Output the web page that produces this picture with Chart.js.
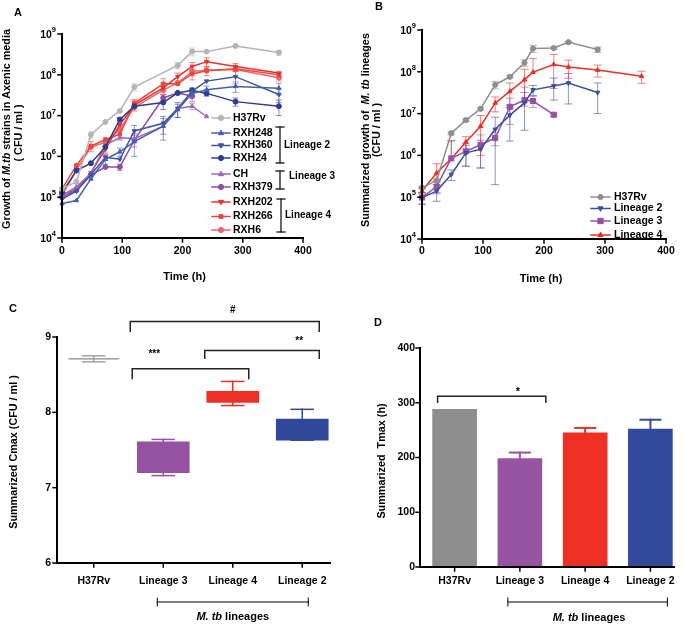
<!DOCTYPE html>
<html><head><meta charset="utf-8">
<script src="https://cdn.jsdelivr.net/npm/chart.js@4.4.1/dist/chart.umd.min.js"></script>
<style>
html,body{margin:0;padding:0;background:#fff;}
#wrap{position:relative;width:686px;height:627px;background:#fff;}
canvas{position:absolute;left:0;top:0;}
</style></head><body>
<div id="wrap">
<canvas id="cA" width="686" height="627"></canvas>
<canvas id="cB" width="686" height="627"></canvas>
<canvas id="cC" width="686" height="627"></canvas>
<canvas id="cD" width="686" height="627"></canvas>
</div>
<script>
// ================= DATA =================
// Panel A : individual strains (CFU/ml)
const timeA = [0,24,48,72,96,120,168,192,216,240,288,360];
const aH37Rv   = [1.6e5,2.4e5,3.4e6,7.0e6,1.3e7,5.0e7,null,1.7e8,3.7e8,3.7e8,5.1e8,3.5e8];
const aH37RvE  = [null,null,6e5,null,null,1e7,null,3e7,8e7,null,2e7,5e7];
const aRXH248  = [7.0e4,8.3e4,2.8e5,8.5e5,1.3e6,2.3e6,5.5e6,1.4e7,3.5e7,4.3e7,5.2e7,4.7e7];
const aRXH248E = [null,null,null,2e5,3e5,1.3e6,3e6,5e6,null,1e7,1.5e7,1.5e7];
const aRXH360  = [9.0e4,1.4e5,3.6e5,9.5e5,8.5e5,4.2e6,6.5e6,1.5e7,4.0e7,7.0e7,9.0e7,3.3e7];
const aRXH360E = [null,null,null,1.5e5,null,1.5e6,3e6,6e6,null,null,3e7,1.2e7];
const aRXH24   = [1.3e5,4.5e5,6.8e5,1.7e6,8.0e6,1.7e7,2.1e7,3.6e7,4.2e7,3.5e7,2.2e7,1.7e7];
const aRXH24E  = [null,null,null,null,1e6,null,7e6,null,5e6,5e6,5e6,7e6];
const aCH      = [1.1e5,1.8e5,3.8e5,1.9e6,2.9e6,2.7e6,5.5e6,1.5e7,1.7e7,9.5e6,null,null];
const aCHE     = [null,null,null,null,null,null,null,null,3e6,null,null,null];
const aRXH379  = [1.0e5,1.5e5,3.5e5,5.5e5,5.5e5,2.5e6,2.7e7,3.6e7,3.0e7,null,null,null];
const aRXH379E = [null,null,null,null,1e5,8e5,5e6,null,8e6,null,null,null];
const aRXH202  = [1.2e5,1.5e5,4.0e5,1.5e6,6.0e6,1.8e7,4.8e7,9.0e7,1.6e8,2.1e8,1.6e8,1.1e8];
const aRXH202E = [null,null,null,3e5,null,5e6,1.5e7,2e7,4e7,5e7,3e7,null];
const aRXH266  = [1.6e5,6.0e5,1.8e6,2.6e6,3.5e6,2.0e7,6.0e7,6.0e7,1.05e8,1.25e8,1.4e8,1.0e8];
const aRXH266E = [null,null,5e5,null,1e6,5e6,2e7,null,3e7,3e7,2e7,1.5e7];
const aRXH6    = [1.1e5,4.7e5,1.7e6,2.2e6,4.6e6,1.6e7,4.2e7,6.3e7,1.2e8,1.3e8,1.35e8,8.5e7];
const aRXH6E   = [null,null,null,null,null,null,null,null,null,null,null,1.5e7];
const xTicksA = [0,100,200,300,400];
const yTicksA = [1e4,1e5,1e6,1e7,1e8,1e9];

// Panel B : summarized lineages
const timeB = [0,24,48,72,96,120,144,168,182,216,240,288,360];
const bH37Rv  = [1.7e5,2.5e5,3.4e6,7.0e6,1.3e7,4.9e7,7.6e7,1.65e8,3.6e8,3.7e8,5.1e8,3.4e8,null];
const bH37RvE = [1e4,2e4,3e5,5e5,1e6,1e7,5e6,3e7,7e7,2e7,2e7,5e7,null];
const bLin2   = [9.8e4,1.4e5,3.5e5,1.15e6,1.4e6,4.2e6,9.2e6,1.8e7,3.7e7,4.6e7,5.4e7,3.2e7,null];
const bLin2E  = [3e4,6e4,1e5,6e5,9e5,4e6,7e6,1.4e7,1e7,2.5e7,3.7e7,2.2e7,null];
const bLin3   = [9.8e4,1.8e5,8.5e5,1.25e6,1.8e6,2.6e6,1.45e7,2.1e7,2.0e7,9.4e6,null,null,null];
const bLin3E  = [3e4,6e4,1.4e6,7e5,1.3e6,9e5,9e6,2.2e7,6e6,8e5,null,null,null];
const bLin4   = [1.4e5,3.8e5,8.3e5,2.1e6,5.0e6,1.8e7,3.4e7,6.5e7,9.8e7,1.5e8,1.3e8,1.1e8,7.8e7];
const bLin4E  = [2e4,2.5e5,1.4e6,7e5,4e6,7e6,2e7,5e7,1.1e8,1.1e8,6e7,3.5e7,2.5e7];
const xTicksB = [0,100,200,300,400];
const yTicksB = [1e4,1e5,1e6,1e7,1e8,1e9];

// Panel C : Cmax box plots (log10 CFU/ml)
const cLabels = ['H37Rv','Lineage 3','Lineage 4','Lineage 2'];
const cMin = [8.67,7.16,8.09,7.63];
const cQ1  = [8.71,7.20,8.13,7.63];
const cMed = [8.71,7.40,8.20,7.75];
const cQ3  = [8.71,7.61,8.28,7.91];
const cMax = [8.75,7.64,8.41,8.04];
const yTicksC = [6,7,8,9];

// Panel D : Tmax bars (h)
const dLabels = ['H37Rv','Lineage 3','Lineage 4','Lineage 2'];
const dMean = [288,198,245,252];
const dErr  = [0,11,9,17];
const yTicksD = [0,100,200,300,400];

// ================= HELPERS =================
const FONT = 'Arial, "Liberation Sans", Helvetica, sans-serif';
function font(size,bold=true,italic=false){return (italic?'italic ':'')+(bold?'bold ':'')+size+'px '+FONT;}
function text(ctx,s,x,y,o={}){
  ctx.save();ctx.font=font(o.size||11,o.bold!==false,o.italic);ctx.fillStyle=o.color||'#000';
  ctx.textAlign=o.align||'center';ctx.textBaseline=o.base||'middle';
  if(o.rot){ctx.translate(x,y);ctx.rotate(o.rot);ctx.fillText(s,0,0);}else ctx.fillText(s,x,y);
  ctx.restore();
}
function rich(ctx,parts,x,y,size,rot){
  ctx.save();ctx.translate(x,y);if(rot)ctx.rotate(rot);
  ctx.textBaseline='middle';ctx.textAlign='left';ctx.fillStyle='#000';
  let w=0;parts.forEach(p=>{ctx.font=font(size,true,p[1]);w+=ctx.measureText(p[0]).width;});
  let cx=-w/2;
  parts.forEach(p=>{ctx.font=font(size,true,p[1]);ctx.fillText(p[0],cx,0);cx+=ctx.measureText(p[0]).width;});
  ctx.restore();
}
function line(ctx,pts,w=1.5,color='#000'){
  ctx.save();ctx.strokeStyle=color;ctx.lineWidth=w;ctx.lineCap='square';ctx.lineJoin='miter';ctx.beginPath();
  ctx.moveTo(pts[0],pts[1]);for(let i=2;i<pts.length;i+=2)ctx.lineTo(pts[i],pts[i+1]);
  ctx.stroke();ctx.restore();
}
function pow10(ctx,exp,xRight,y){
  ctx.save();ctx.fillStyle='#000';ctx.textBaseline='middle';ctx.textAlign='right';
  ctx.font=font(7.5);const ew=ctx.measureText(String(exp)).width;
  ctx.fillText(String(exp),xRight,y-4);
  ctx.font=font(10.5);ctx.fillText('10',xRight-ew,y+1);
  ctx.restore();
}
function mark(ctx,style,rot,x,y,r,color){
  ctx.save();ctx.fillStyle=color;ctx.strokeStyle=color;ctx.lineWidth=1;ctx.beginPath();
  if(style==='circle'){ctx.arc(x,y,r,0,Math.PI*2);}
  else if(style==='rect'){const s=r*0.75;ctx.rect(x-s,y-s,2*s,2*s);}
  else {const s=rot?-1:1;ctx.moveTo(x,y-s*r*1.1);ctx.lineTo(x-r,y+s*r*0.65);ctx.lineTo(x+r,y+s*r*0.65);ctx.closePath();}
  ctx.fill();ctx.stroke();ctx.restore();
}
function baseOptions(pad,xCfg,yCfg){
  const hide={grid:{display:false},ticks:{display:false},border:{display:false}};
  return {responsive:false,animation:false,devicePixelRatio:1,
    layout:{padding:pad},
    plugins:{legend:{display:false},tooltip:{enabled:false}},
    scales:{x:Object.assign({},hide,xCfg),y:Object.assign({},hide,yCfg)}};
}
const errPlugin={id:'errbars',beforeDatasetsDraw(chart){
  const ctx=chart.ctx,xs=chart.scales.x,ys=chart.scales.y;
  chart.data.datasets.forEach(ds=>{
    if(!ds.errs)return;
    ctx.save();ctx.strokeStyle=ds.borderColor;ctx.globalAlpha=0.6;ctx.lineWidth=1;
    const cap=ds.cap||3;
    ds.data.forEach((p,i)=>{
      const e=ds.errs[i];if(p.y==null||e==null)return;
      const px=xs.getPixelForValue(p.x);
      const hi=ys.getPixelForValue(p.y+e);
      const hasLo=(p.y-e)>0;
      const lo=hasLo?ys.getPixelForValue(p.y-e):ys.getPixelForValue(p.y);
      ctx.beginPath();ctx.moveTo(px,hi);ctx.lineTo(px,lo);
      ctx.moveTo(px-cap,hi);ctx.lineTo(px+cap,hi);
      if(hasLo){ctx.moveTo(px-cap,lo);ctx.lineTo(px+cap,lo);}
      ctx.stroke();
    });
    ctx.restore();
  });
}};
function lineDS(label,xs,ys,errs,color,style,rot,r,cap){
  return {label,data:xs.map((x,i)=>({x,y:ys[i]})),errs,cap,borderColor:color,backgroundColor:color,
    borderWidth:1.5,pointStyle:style,pointRotation:rot,pointRadius:r,pointBorderWidth:1,
    pointBorderColor:color,pointBackgroundColor:color,spanGaps:true,clip:false,tension:0};
}

// ================= PANEL A =================
const seriesA=[
  ['H37Rv',aH37Rv,aH37RvE,'#b4b4b4','circle',0],
  ['RXH248',aRXH248,aRXH248E,'#4560ad','triangle',0],
  ['RXH360',aRXH360,aRXH360E,'#3c55a6','triangle',180],
  ['RXH24',aRXH24,aRXH24E,'#2c3d93','circle',0],
  ['CH',aCH,aCHE,'#a067b8','triangle',0],
  ['RXH379',aRXH379,aRXH379E,'#8e4ea3','circle',0],
  ['RXH202',aRXH202,aRXH202E,'#e8302a','triangle',180],
  ['RXH266',aRXH266,aRXH266E,'#ec4640','rect',0],
  ['RXH6',aRXH6,aRXH6E,'#f06464','circle',0]
];
const legendRowsA=[118,133,145.5,158,174,187,202,216.5,230];
const decoA={id:'decoA',afterDraw(chart){
  const ctx=chart.ctx,xs=chart.scales.x,ys=chart.scales.y,a=chart.chartArea;
  line(ctx,[a.left,a.top,a.left,a.bottom,a.right,a.bottom],2);
  yTicksA.forEach(v=>{const py=ys.getPixelForValue(v);line(ctx,[a.left-4,py,a.left,py],1.5);pow10(ctx,Math.round(Math.log10(v)),a.left-6,py);});
  xTicksA.forEach(v=>{const px=xs.getPixelForValue(v);line(ctx,[px,a.bottom,px,a.bottom+4],1.5);text(ctx,String(v),px,a.bottom+13,{size:10.5});});
  text(ctx,'Time (h)',(a.left+a.right)/2+2,277,{size:11});
  rich(ctx,[['Growth of ',false],['M.tb',true],[' strains in Axenic media',false]],7,129,10.8,-Math.PI/2);
  rich(ctx,[['( CFU / ml )',false]],19,133,10.8,-Math.PI/2);
  text(ctx,'A',18,13,{size:11});
  // legend
  seriesA.forEach((s,i)=>{
    const y=legendRowsA[i];
    line(ctx,[212,y,230,y],1.5,s[3]);
    mark(ctx,s[4],s[5],221,y,2.6,s[3]);
    text(ctx,s[0],233,y,{size:10.5,align:'left'});
  });
  const br=(x,y1,y2,lab,tx,ty)=>{line(ctx,[x-4,y1,x+4,y1],1.2);line(ctx,[x,y1,x,y2],1.2);line(ctx,[x-4,y2,x+4,y2],1.2);text(ctx,lab,tx,ty,{size:10,align:'left'});};
  br(280,127,163,'Lineage 2',284,145);
  br(280,171,189,'Lineage 3',289,176);
  br(281,199,232,'Lineage 4',285,215);
}};
new Chart(document.getElementById('cA'),{
  type:'line',
  data:{datasets:seriesA.map(s=>lineDS(s[0],timeA,s[1],s[2],s[3],s[4],s[5],2.5,3))},
  options:baseOptions({left:54,top:34,right:383,bottom:381},{type:'linear',min:0,max:400},{type:'logarithmic',min:1e4,max:1e9}),
  plugins:[errPlugin,decoA]
});

// ================= PANEL B =================
const seriesB=[
  ['H37Rv',bH37Rv,bH37RvE,'#8e8e8e','circle',0,2.6],
  ['Lineage 2',bLin2,bLin2E,'#3a519f','triangle',180,2.6],
  ['Lineage 3',bLin3,bLin3E,'#9550a8','rect',0,3.6],
  ['Lineage 4',bLin4,bLin4E,'#ea2e26','triangle',0,2.6]
];
const legendRowsB=[197,208.5,221,235];
const decoB={id:'decoB',afterDraw(chart){
  const ctx=chart.ctx,xs=chart.scales.x,ys=chart.scales.y,a=chart.chartArea;
  line(ctx,[a.left,a.top,a.left,a.bottom,a.right,a.bottom],2);
  yTicksB.forEach(v=>{const py=ys.getPixelForValue(v);line(ctx,[a.left-4,py,a.left,py],1.5);pow10(ctx,Math.round(Math.log10(v)),a.left-6,py);});
  xTicksB.forEach(v=>{const px=xs.getPixelForValue(v);line(ctx,[px,a.bottom,px,a.bottom+4],1.5);text(ctx,String(v),px,a.bottom+12,{size:10.5});});
  text(ctx,'Time (h)',541,279,{size:11});
  rich(ctx,[['Summarized growth of  ',false],['M. tb',true],[' lineages',false]],366,130,10.8,-Math.PI/2);
  rich(ctx,[['(CFU / ml )',false]],377,130,10.8,-Math.PI/2);
  text(ctx,'B',379,7,{size:11});
  seriesB.forEach((s,i)=>{
    const y=legendRowsB[i];
    line(ctx,[591,y,610,y],1.5,s[3]);
    mark(ctx,s[4],s[5],600.5,y,s[6],s[3]);
    text(ctx,s[0],614,y,{size:10.5,align:'left'});
  });
}};
new Chart(document.getElementById('cB'),{
  type:'line',
  data:{datasets:seriesB.map(s=>lineDS(s[0],timeB,s[1],s[2],s[3],s[4],s[5],s[6],4))},
  options:baseOptions({left:414,top:30,right:20,bottom:380},{type:'linear',min:0,max:400},{type:'logarithmic',min:1e4,max:1e9}),
  plugins:[errPlugin,decoB]
});

// ================= PANEL C =================
const cColors=['#a3a3a3','#9552a1','#ee2f24','#30479a'];
const decoC={id:'decoC',afterDraw(chart){
  const ctx=chart.ctx,xs=chart.scales.x,ys=chart.scales.y;
  cLabels.forEach((l,i)=>{
    const px=xs.getPixelForValue(i),c=cColors[i];
    const pMin=ys.getPixelForValue(cMin[i]),pMax=ys.getPixelForValue(cMax[i]);
    const pQ1=ys.getPixelForValue(cQ1[i]),pQ3=ys.getPixelForValue(cQ3[i]),pMed=ys.getPixelForValue(cMed[i]);
    line(ctx,[px,pQ3,px,pMax],1.5,c);line(ctx,[px,pQ1,px,pMin],1.5,c);
    line(ctx,[px-11,pMax,px+11,pMax],1.5,c);line(ctx,[px-11,pMin,px+11,pMin],1.5,c);
    line(ctx,[px-24,pMed,px+24,pMed],1.5,c);
  });
  // axes
  const L=57,T=ys.getPixelForValue(9),B=ys.getPixelForValue(6),R=330;
  line(ctx,[L,T,L,B,R,B],2);
  yTicksC.forEach(v=>{const py=ys.getPixelForValue(v);line(ctx,[L-4,py,L,py],1.5);text(ctx,String(v),L-6,py,{size:10.5,align:'right'});});
  cLabels.forEach((l,i)=>{const px=xs.getPixelForValue(i);line(ctx,[px,B,px,B+4],1.5);text(ctx,l,px,B+18,{size:10.5});});
  rich(ctx,[['Summarized Cmax (CFU / ml )',false]],14,452,10.8,-Math.PI/2);
  text(ctx,'C',13,309,{size:11});
  // lineage bracket
  const x1=xs.getPixelForValue(1)-6,x2=xs.getPixelForValue(3)+6;
  line(ctx,[x1,598,x1,606],1);line(ctx,[x1,602,x2,602],1);line(ctx,[x2,598,x2,606],1);
  rich(ctx,[['M. tb',true],[' lineages',false]],xs.getPixelForValue(2),617,11);
  // significance brackets
  const sb=(xa,xb,yTop,yLeg,lab,tx,ty)=>{
    const pt=ys.getPixelForValue(yTop),pl=ys.getPixelForValue(yLeg);
    line(ctx,[xa,pl,xa,pt,xb,pt,xb,pl],1.5,'#222');
    text(ctx,lab,tx,ys.getPixelForValue(ty),{size:10});
  };
  sb(xs.getPixelForValue(1)-33,xs.getPixelForValue(3)+17,9.205,9.077,'#',xs.getPixelForValue(2),9.36);
  sb(xs.getPixelForValue(2)-28,xs.getPixelForValue(3)+17,8.82,8.718,'**',xs.getPixelForValue(3)-3,8.95);
  sb(xs.getPixelForValue(1)-31,xs.getPixelForValue(2)+16,8.577,8.449,'***',xs.getPixelForValue(1)-9,8.77);
}};
new Chart(document.getElementById('cC'),{
  type:'bar',
  data:{labels:cLabels,datasets:[{data:cQ1.map((v,i)=>[v,cQ3[i]]),backgroundColor:cColors,borderColor:cColors,borderWidth:0,barThickness:52,borderSkipped:false}]},
  options:baseOptions({left:51,top:337,right:349,bottom:56},{type:'category',offset:true},{type:'linear',min:6,max:9}),
  plugins:[decoC]
});

// ================= PANEL D =================
const dColors=['#8e8e8e','#9654a3','#ee3024','#32489b'];
const decoD={id:'decoD',afterDraw(chart){
  const ctx=chart.ctx,xs=chart.scales.x,ys=chart.scales.y;
  dLabels.forEach((l,i)=>{
    if(!dErr[i])return;
    const px=xs.getPixelForValue(i),c=dColors[i];
    const p0=ys.getPixelForValue(dMean[i]),p1=ys.getPixelForValue(dMean[i]+dErr[i]);
    line(ctx,[px,p0,px,p1],2,c);line(ctx,[px-10,p1,px+10,p1],2,c);
  });
  const L=420,T=ys.getPixelForValue(400),B=ys.getPixelForValue(0),R=674;
  line(ctx,[L,T,L,B,R,B],2);
  yTicksD.forEach(v=>{const py=ys.getPixelForValue(v);line(ctx,[L-4,py,L,py],1.5);text(ctx,String(v),L-5,py,{size:10.5,align:'right'});});
  dLabels.forEach((l,i)=>{const px=xs.getPixelForValue(i);line(ctx,[px,B,px,B+4],1.5);text(ctx,l,px,B+14,{size:10.5});});
  rich(ctx,[['Summarized  Tmax (h)',false]],382,461,10.8,-Math.PI/2);
  text(ctx,'D',378,323,{size:11});
  const x1=xs.getPixelForValue(1)-12,x2=xs.getPixelForValue(3)+17;
  line(ctx,[x1,598,x1,606],1);line(ctx,[x1,602,x2,602],1);line(ctx,[x2,598,x2,606],1);
  rich(ctx,[['M. tb',true],[' lineages',false]],589,618,11);
  const xa=xs.getPixelForValue(0)-17,xb=xs.getPixelForValue(1)+26;
  const pt=ys.getPixelForValue(312),pl=ys.getPixelForValue(301);
  line(ctx,[xa,pl,xa,pt,xb,pt,xb,pl],1.5,'#222');
  text(ctx,'*',518,ys.getPixelForValue(320),{size:11});
}};
new Chart(document.getElementById('cD'),{
  type:'bar',
  data:{labels:dLabels,datasets:[{data:dMean,backgroundColor:dColors,borderWidth:0,barThickness:44}]},
  options:baseOptions({left:414,top:348,right:3,bottom:52},{type:'category',offset:true},{type:'linear',min:0,max:400}),
  plugins:[decoD]
});
</script>
</body></html>
